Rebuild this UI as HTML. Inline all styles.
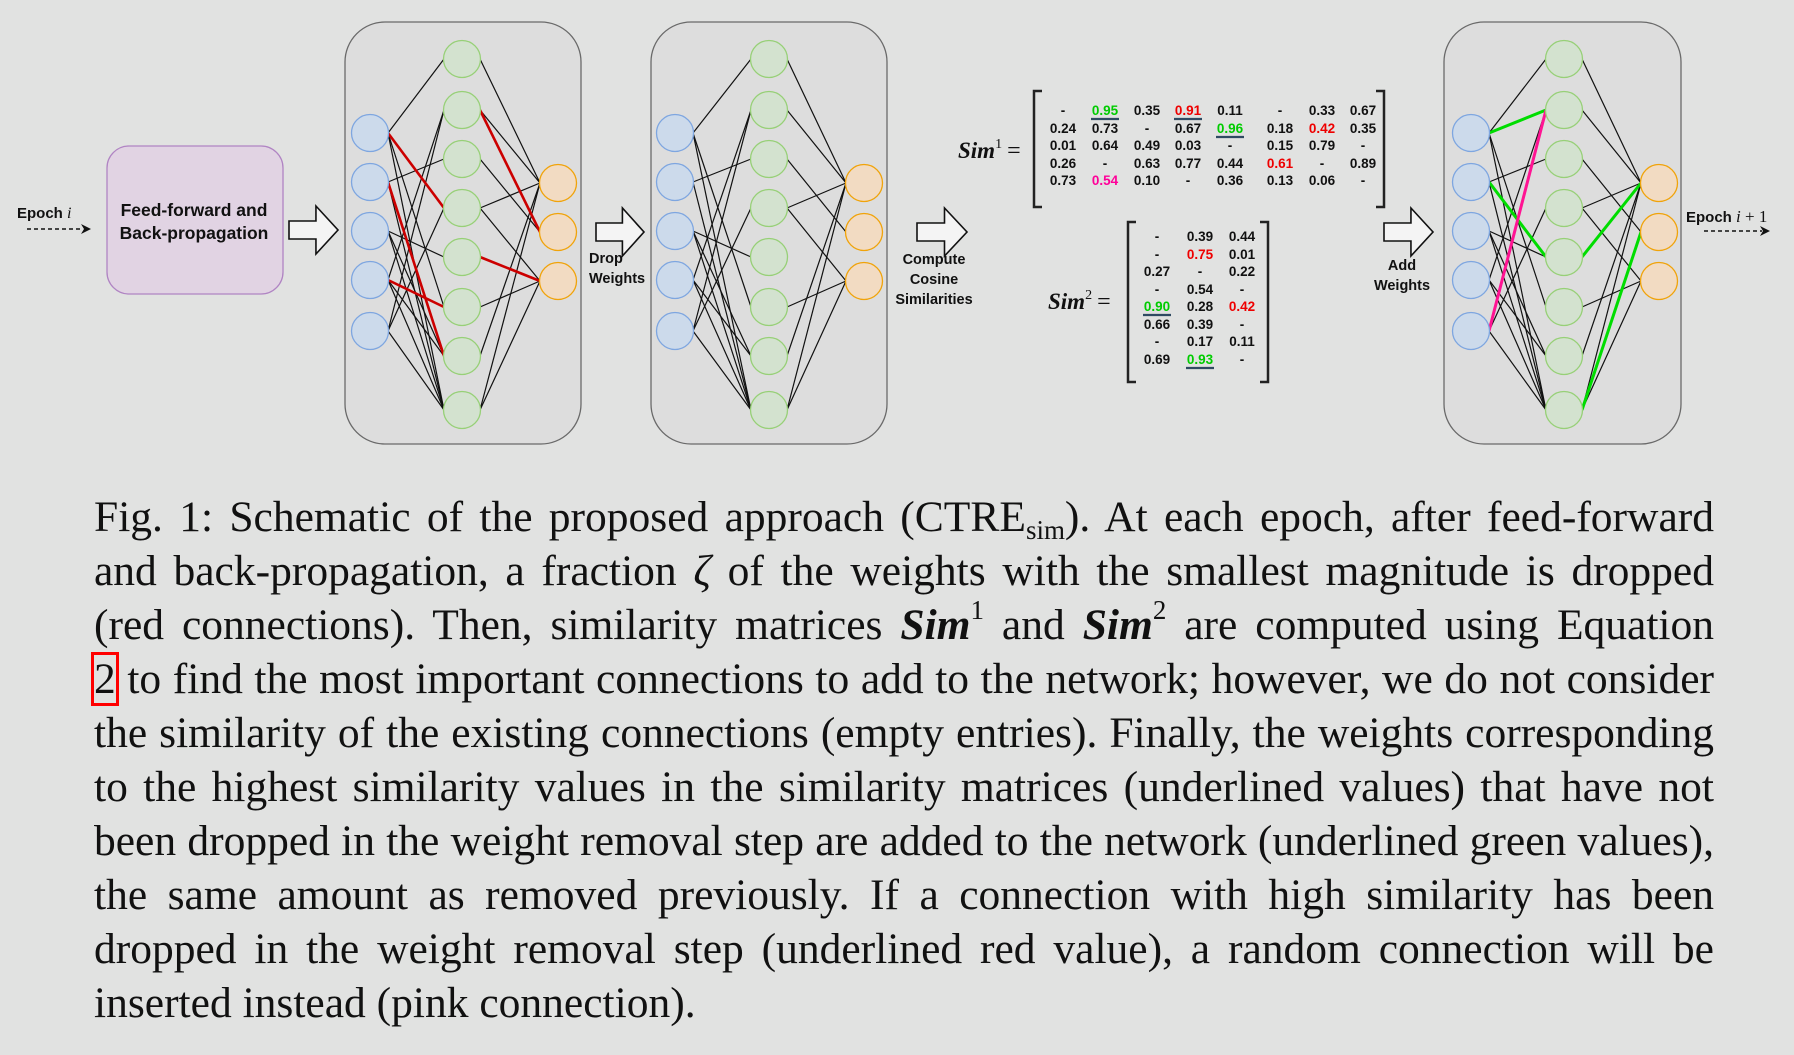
<!DOCTYPE html>
<html><head><meta charset="utf-8">
<style>
html,body{margin:0;padding:0;}
body{width:1794px;height:1055px;background:#e1e2e1;position:relative;overflow:hidden;font-family:"Liberation Sans",sans-serif;}
svg{position:absolute;left:0;top:0;}
.cap{position:absolute;left:94px;width:1620px;font-family:"Liberation Serif",serif;font-size:43.5px;line-height:54px;height:54px;color:#111;text-align:justify;text-align-last:justify;white-space:nowrap;overflow:visible;}
.cap.last{text-align-last:left;}
.sim{font-weight:bold;font-style:italic;}
sup{font-size:0.62em;line-height:0;vertical-align:0.75em;}
sub{font-size:0.62em;line-height:0;vertical-align:-0.3em;}
.ref{outline:3px solid #f00;outline-offset:0px;}
</style></head>
<body>
<svg id="fig" width="1794" height="470" viewBox="0 0 1794 470"
 font-family="Liberation Sans, sans-serif">
</svg>

<div class="cap" style="top:490px">Fig. 1: Schematic of the proposed approach (CTRE<sub>sim</sub>). At each epoch, after feed-forward</div>
<div class="cap" style="top:544px">and back-propagation, a fraction <i>ζ</i> of the weights with the smallest magnitude is dropped</div>
<div class="cap" style="top:598px">(red connections). Then, similarity matrices <span class="sim">Sim</span><sup>1</sup> and <span class="sim">Sim</span><sup>2</sup> are computed using Equation</div>
<div class="cap" style="top:652px"><span class="ref">2</span> to find the most important connections to add to the network; however, we do not consider</div>
<div class="cap" style="top:706px">the similarity of the existing connections (empty entries). Finally, the weights corresponding</div>
<div class="cap" style="top:760px">to the highest similarity values in the similarity matrices (underlined values) that have not</div>
<div class="cap" style="top:814px">been dropped in the weight removal step are added to the network (underlined green values),</div>
<div class="cap" style="top:868px">the same amount as removed previously. If a connection with high similarity has been</div>
<div class="cap" style="top:922px">dropped in the weight removal step (underlined red value), a random connection will be</div>
<div class="cap last" style="top:976px">inserted instead (pink connection).</div>

<script>
// ---- network structure ----
const inputY = [133, 182, 231, 280, 331];
const hiddenY = [59, 110, 159, 208, 257, 307, 356, 410];
const outputY = [183, 232, 281];
const baseIH = [[0,0],[0,5],[0,7],[1,2],[1,7],[2,4],[2,6],[2,7],[3,1],[3,6],[3,7],[4,3],[4,1],[4,7]];
const baseHO = [[0,0],[1,0],[2,1],[3,0],[3,2],[5,2],[6,0],[7,2],[7,0]];
const droppedIH = [[0,3],[1,6],[3,5]];
const droppedHO = [[1,1],[4,2]];
const addedIH = [[0,1],[1,4]];
const addedHO = [[4,0],[7,1]];
const randomIH = [[4,1]];
const panels = [
 {name:'network-before', bx:345, bw:236, xi:370, xh:462, xo:558, mode:'drop'},
 {name:'network-dropped', bx:651, bw:236, xi:675, xh:769, xo:864, mode:'base'},
 {name:'network-after', bx:1444, bw:237, xi:1471, xh:1564, xo:1659, mode:'add'}
];
// ---- similarity matrices ----
const sim1 = [
 ['-','0.95','0.35','0.91','0.11','-','0.33','0.67'],
 ['0.24','0.73','-','0.67','0.96','0.18','0.42','0.35'],
 ['0.01','0.64','0.49','0.03','-','0.15','0.79','-'],
 ['0.26','-','0.63','0.77','0.44','0.61','-','0.89'],
 ['0.73','0.54','0.10','-','0.36','0.13','0.06','-']];
const sim1Color = {'0,1':'#00cc00','0,3':'#ee0000','1,4':'#00cc00','1,6':'#ee0000','3,5':'#ee0000','4,1':'#ff0099'};
const sim1Under = ['0,1','0,3','1,4'];
const sim2 = [
 ['-','0.39','0.44'],['-','0.75','0.01'],['0.27','-','0.22'],['-','0.54','-'],
 ['0.90','0.28','0.42'],['0.66','0.39','-'],['-','0.17','0.11'],['0.69','0.93','-']];
const sim2Color = {'1,1':'#ee0000','4,0':'#00cc00','4,2':'#ee0000','7,1':'#00cc00'};
const sim2Under = ['4,0','7,1'];

const NS='http://www.w3.org/2000/svg';
const svg=document.getElementById('fig');
function mk(tag,attrs,parent){const e=document.createElementNS(NS,tag);for(const k in attrs)e.setAttribute(k,attrs[k]);(parent||svg).appendChild(e);return e;}
function txt(x,y,s,attrs,parent){const t=mk('text',Object.assign({x:x,y:y},attrs||{}),parent);t.textContent=s;return t;}

function arrow(x,cy,w,name){
  const h1=9,h2=24,hx=x+w*0.55;
  const p=mk('polygon',{points:`${x},${cy-h1} ${hx},${cy-h1} ${hx},${cy-h2} ${x+w},${cy} ${hx},${cy+h2} ${hx},${cy+h1} ${x},${cy+h1}`,fill:'#f4f4f4',stroke:'#111','stroke-width':1.6});
  
  
}
function dashArrow(x1,x2,y,name){
  const g=mk('g',{});
  
  
  mk('line',{x1:x1,y1:y,x2:x2-8,y2:y,stroke:'#111','stroke-width':1.5,'stroke-dasharray':'4,3'},g);
  mk('polygon',{points:`${x2-10},${y-5} ${x2},${y} ${x2-10},${y+5} ${x2-7},${y}`,fill:'#111'},g);
}

const ep=txt(17,218,'Epoch ',{'font-size':15,'font-weight':'bold',fill:'#111'});


const epi=mk('tspan',{'font-family':'Liberation Serif, serif','font-style':'italic','font-weight':'normal','font-size':16},ep);epi.textContent='i';
dashArrow(27,91,229,'epoch-i-arrow');

const ff=mk('rect',{x:107,y:146,width:176,height:148,rx:22,fill:'#e1d3e3',stroke:'#b084c3','stroke-width':1.3});


txt(194,216,'Feed-forward and',{'font-size':17.5,'font-weight':'bold','text-anchor':'middle',fill:'#111'});
txt(194,239,'Back-propagation',{'font-size':17.5,'font-weight':'bold','text-anchor':'middle',fill:'#111'});
arrow(289,230,49,'arrow-to-network');

function edge(g,x1,y1,x2,y2,color,w){mk('line',{x1:x1,y1:y1,x2:x2,y2:y2,stroke:color,'stroke-width':w},g);}
panels.forEach(p=>{
  const g=mk('g',{});
  
  
  mk('rect',{x:p.bx,y:22,width:p.bw,height:422,rx:40,fill:'#dddddd',stroke:'#6a6a6a','stroke-width':1.3},g);
  const ri=18;
  const IH=(a,col,w)=>a.forEach(([i,h])=>edge(g,p.xi+ri,inputY[i],p.xh-ri,hiddenY[h],col,w));
  const HO=(a,col,w)=>a.forEach(([h,o])=>edge(g,p.xh+ri,hiddenY[h],p.xo-ri,outputY[o],col,w));
  IH(baseIH,'#111',1.2);HO(baseHO,'#111',1.2);
  if(p.mode==='drop'){IH(droppedIH,'#cc0000',2.6);HO(droppedHO,'#cc0000',2.6);}
  if(p.mode==='add'){IH(addedIH,'#00dd00',3);HO(addedHO,'#00dd00',3);IH(randomIH,'#ff1493',3);}
  inputY.forEach(y=>{const c=mk('circle',{cx:p.xi,cy:y,r:18.5,fill:'#ccdaeb',stroke:'#7ea6e0','stroke-width':1.3},g);
    });
  hiddenY.forEach(y=>{const c=mk('circle',{cx:p.xh,cy:y,r:18.5,fill:'#d3e2cf',stroke:'#97d077','stroke-width':1.3},g);
    });
  outputY.forEach(y=>{const c=mk('circle',{cx:p.xo,cy:y,r:18.5,fill:'#f2dbc2',stroke:'#f0a30a','stroke-width':1.3},g);
    });
});

arrow(596,232,48,'drop-weights-arrow');
txt(589,263,'Drop',{'font-size':14.5,'font-weight':'bold',fill:'#111'});
txt(589,283,'Weights',{'font-size':14.5,'font-weight':'bold',fill:'#111'});
arrow(917,232,50,'compute-similarity-arrow');
txt(934,264,'Compute',{'font-size':14.5,'font-weight':'bold',fill:'#111','text-anchor':'middle'});
txt(934,284,'Cosine',{'font-size':14.5,'font-weight':'bold',fill:'#111','text-anchor':'middle'});
txt(934,304,'Similarities',{'font-size':14.5,'font-weight':'bold',fill:'#111','text-anchor':'middle'});
arrow(1384,232,49,'add-weights-arrow');
txt(1402,270,'Add',{'font-size':14.5,'font-weight':'bold',fill:'#111','text-anchor':'middle'});
txt(1402,290,'Weights',{'font-size':14.5,'font-weight':'bold',fill:'#111','text-anchor':'middle'});

const ep2=txt(1686,222,'Epoch ',{'font-size':15,'font-weight':'bold',fill:'#111'});


const ep2s=mk('tspan',{'font-family':'Liberation Serif, serif','font-style':'italic','font-weight':'normal','font-size':17},ep2);ep2s.textContent='i';
const ep2t=mk('tspan',{'font-family':'Liberation Serif, serif','font-weight':'normal','font-size':17},ep2);ep2t.textContent=' + 1';
dashArrow(1704,1770,231,'epoch-i-plus-1-arrow');

function matrix(name,data,colors,under,colX,rowY,bl,br,bt,bb,lx,ly,sup){
  const g=mk('g',{});
  
  
  const lab=txt(lx,ly,'Sim',{'font-family':'Liberation Serif, serif','font-size':23,'font-weight':'bold','font-style':'italic',fill:'#111'},g);
  const s=mk('tspan',{'font-size':14,'font-weight':'normal','font-style':'normal',dy:-10},lab);s.textContent=sup;
  const eq=mk('tspan',{'font-size':24,'font-weight':'normal','font-style':'normal',dy:10,dx:5},lab);eq.textContent='=';
  mk('polyline',{points:`${bl+8},${bt} ${bl},${bt} ${bl},${bb} ${bl+8},${bb}`,fill:'none',stroke:'#222','stroke-width':2.5},g);
  mk('polyline',{points:`${br-8},${bt} ${br},${bt} ${br},${bb} ${br-8},${bb}`,fill:'none',stroke:'#222','stroke-width':2.5},g);
  data.forEach((row,r)=>row.forEach((v,c)=>{
    const k=r+','+c;
    const t=txt(colX[c],rowY[r]+5,v,{'font-size':13.5,'font-weight':'bold','text-anchor':'middle',fill:colors[k]||'#111'},g);
    
    
    if(under.includes(k)) mk('line',{x1:colX[c]-14,y1:rowY[r]+9,x2:colX[c]+14,y2:rowY[r]+9,stroke:'#2f4a62','stroke-width':2.2},g);
  }));
}
matrix('similarity-matrix-1',sim1,sim1Color,sim1Under,[1063,1105,1147,1188,1230,1280,1322,1363],[110,128,145,163,180],1034,1384,91,207,958,158,'1');
matrix('similarity-matrix-2',sim2,sim2Color,sim2Under,[1157,1200,1242],[236,254,271,289,306,324,341,359],1128,1268,222,382,1048,309,'2');
</script>
</body></html>
